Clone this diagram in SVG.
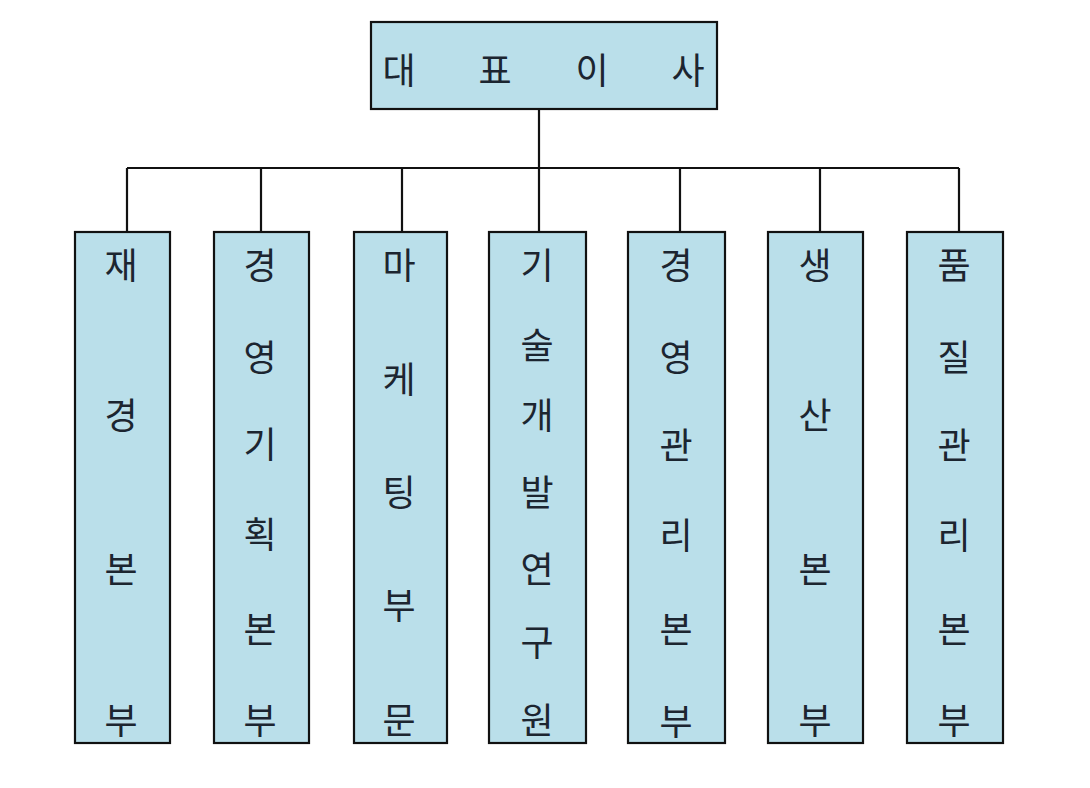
<svg xmlns="http://www.w3.org/2000/svg" width="1090" height="788" viewBox="0 0 1090 788">
<style>
.box{fill:#BADFEA;stroke:#111;stroke-width:2.2}
.conn{stroke:#111;stroke-width:2.2;fill:none}
text{font-family:"Noto Sans CJK KR","Noto Sans",sans-serif;font-size:36px;fill:#1c2530;text-anchor:middle;dominant-baseline:central}
</style>
<rect width="1090" height="788" fill="#fff"/>
<g id="connectors">
<path class="conn" d="M539,109V168M127,168H959M127,168V232M261,168V232M402,168V232M539,168V232M680,168V232M820,168V232M959,168V232"/>
</g>
<g id="ceo">
<rect class="box" x="371" y="22" width="346" height="87"/>
<text x="399" y="68">대</text><text x="495" y="68">표</text><text x="592" y="68">이</text><text x="688" y="68">사</text>
</g>
<g id="finance">
<rect class="box" x="75" y="232" width="95" height="511"/>
<text x="121" y="263">재</text><text x="121" y="413">경</text><text x="121" y="567">본</text><text x="121" y="718">부</text>
</g>
<g id="planning">
<rect class="box" x="214" y="232" width="95" height="511"/>
<text x="260" y="263">경</text><text x="260" y="355">영</text><text x="260" y="442">기</text><text x="260" y="532">획</text><text x="260" y="627">본</text><text x="260" y="718">부</text>
</g>
<g id="marketing">
<rect class="box" x="354" y="232" width="93" height="511"/>
<text x="399" y="263">마</text><text x="399" y="377">케</text><text x="399" y="490">팅</text><text x="399" y="603">부</text><text x="399" y="718">문</text>
</g>
<g id="rnd">
<rect class="box" x="489" y="232" width="97" height="511"/>
<text x="537" y="263">기</text><text x="537" y="343">술</text><text x="537" y="413">개</text><text x="537" y="490">발</text><text x="537" y="567">연</text><text x="537" y="640">구</text><text x="537" y="718">원</text>
</g>
<g id="management">
<rect class="box" x="628" y="232" width="97" height="511"/>
<text x="676" y="263">경</text><text x="676" y="355">영</text><text x="676" y="443">관</text><text x="676" y="533">리</text><text x="676" y="627">본</text><text x="676" y="719">부</text>
</g>
<g id="production">
<rect class="box" x="768" y="232" width="95" height="511"/>
<text x="815" y="263">생</text><text x="815" y="413">산</text><text x="815" y="567">본</text><text x="815" y="718">부</text>
</g>
<g id="quality">
<rect class="box" x="907" y="232" width="96" height="511"/>
<text x="954" y="263">품</text><text x="954" y="355">질</text><text x="954" y="443">관</text><text x="954" y="533">리</text><text x="954" y="627">본</text><text x="954" y="718">부</text>
</g>
</svg>
